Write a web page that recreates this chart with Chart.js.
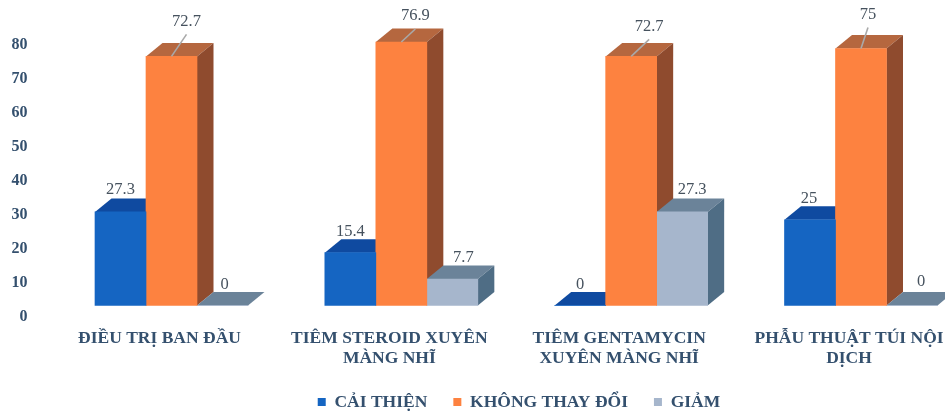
<!DOCTYPE html>
<html lang="vi">
<head>
<meta charset="utf-8">
<style>
  html, body { margin: 0; padding: 0; background: #fff; overflow: hidden; }
  #wrap { width: 945px; height: 414px; }
</style>
<script src="https://cdn.jsdelivr.net/npm/chart.js@4"></script>
</head>
<body>
<div id="wrap"><canvas id="chart" width="945" height="414"></canvas></div>
<script>
const categories = [
    'ĐIỀU TRỊ BAN ĐẦU',
    ['TIÊM STEROID XUYÊN', 'MÀNG NHĨ'],
    ['TIÊM GENTAMYCIN', 'XUYÊN MÀNG NHĨ'],
    ['PHẪU THUẬT TÚI NỘI', 'DỊCH']
];
const caiThien = [27.3, 15.4, 0, 25];
const khongThayDoi = [72.7, 76.9, 72.7, 75];
const giam = [0, 7.7, 27.3, 0];
const yTicks = [0, 10, 20, 30, 40, 50, 60, 70, 80];

// colours per series: front, top, side
const blue = ['#1565c2', '#0f4aa0', '#0d3f88'];
const orange = ['#fd8240', '#b5673f', '#8f4b2e'];
const grey = ['#a6b6cc', '#6b8399', '#4f6d85'];

// where each value label sits relative to the top of its bar
const labelShift = [
    [[0, -22], [0, -21], [0, -21], [-1, -21]],
    [[15, -35], [14, -26], [18, -30], [7, -34]],
    [[2, -21], [11, -21], [10, -22], [9, -24]]
];
const DEPTH_X = 16.5, DEPTH_Y = 13.5;
const serif = '"Liberation Serif", "DejaVu Serif", serif';
const navy = '#34506e';

const box3d = {
    id: 'box3d',
    afterLayout(chart) {
        // legend keeps its reserved height but sits lower and a little right of the canvas centre
        const legend = chart.legend;
        const h = legend.bottom - legend.top;
        legend.top = 367.25;
        legend.bottom = legend.top + h;
        legend.left = 95;
        legend.right = 943;
        // two-line category labels would be clipped at the axis box otherwise
        chart.scales.x.bottom = 380;
    },
    // side and top faces, left to right; the front faces are painted over them by the chart
    beforeDatasetsDraw(chart) {
        const ctx = chart.ctx;
        chart.data.datasets.forEach((ds, i) => {
            const c = ds.faces;
            chart.getDatasetMeta(i).data.forEach(bar => {
                const half = bar.width / 2;
                const l = bar.x - half, r = bar.x + half, t = bar.y, b = bar.base;
                ctx.save();
                ctx.fillStyle = c[1];
                ctx.beginPath();
                ctx.moveTo(l, t);
                ctx.lineTo(l + DEPTH_X, t - DEPTH_Y);
                ctx.lineTo(r + DEPTH_X, t - DEPTH_Y);
                ctx.lineTo(r, t);
                ctx.closePath();
                ctx.fill();
                if (b - t > 0.5) {
                    ctx.fillStyle = c[2];
                    ctx.beginPath();
                    ctx.moveTo(r, t);
                    ctx.lineTo(r + DEPTH_X, t - DEPTH_Y);
                    ctx.lineTo(r + DEPTH_X, b - DEPTH_Y);
                    ctx.lineTo(r, b);
                    ctx.closePath();
                    ctx.fill();
                }
                ctx.restore();
            });
        });
    },
    afterDatasetsDraw(chart) {
        const ctx = chart.ctx;
        ctx.save();
        ctx.font = '16.5px ' + serif;
        ctx.textAlign = 'center';
        ctx.textBaseline = 'middle';
        chart.data.datasets.forEach((ds, i) => {
            chart.getDatasetMeta(i).data.forEach((bar, j) => {
                const s = labelShift[i][j];
                if (i === 1) {
                    // leader line up to the label of the tall bars
                    ctx.strokeStyle = '#a9a9a9';
                    ctx.lineWidth = 1.6;
                    ctx.beginPath();
                    ctx.moveTo(bar.x, bar.y);
                    ctx.lineTo(bar.x + s[0], bar.y + s[1] + 13);
                    ctx.stroke();
                }
                ctx.fillStyle = '#46525e';
                ctx.fillText(String(ds.data[j]), bar.x + s[0], bar.y + s[1]);
            });
        });
        ctx.restore();
    }
};

function series(label, data, faces) {
    return { label, data, faces, backgroundColor: faces[0], barThickness: 51, clip: false, yAxisID: 'y' };
}

new Chart(document.getElementById('chart').getContext('2d'), {
    type: 'bar',
    data: {
        labels: categories,
        datasets: [
            series('CẢI THIỆN', caiThien, blue),
            series('KHÔNG THAY ĐỔI', khongThayDoi, orange),
            series('GIẢM', giam, grey)
        ]
    },
    options: {
        responsive: false,
        animation: false,
        events: [],
        layout: { padding: { left: 0, right: 84, top: 45, bottom: 0 } },
        scales: {
            x: {
                offset: false,
                grid: { display: false },
                border: { display: false },
                ticks: {
                    maxRotation: 0,
                    autoSkip: false,
                    padding: 3,
                    labelOffset: -12,
                    color: navy,
                    font: { family: serif, size: 17.5, weight: 'bold', lineHeight: 1.15 }
                },
                afterFit(scale) {
                    scale.height = 43.5;
                    scale.paddingLeft = 0;
                    scale.paddingRight = 0;
                }
            },
            // bars sit above the printed zero, as in the source
            y: { display: false, min: -3.38, max: 76.03 },
            yLabels: {
                position: 'left',
                min: 0,
                max: 80,
                grid: { display: false, drawTicks: false },
                border: { display: false },
                afterBuildTicks(scale) { scale.ticks = yTicks.map(value => ({ value })); },
                afterFit(scale) {
                    scale.width = 171.5;
                    scale.paddingTop = 0;
                    scale.paddingBottom = 0;
                },
                ticks: {
                    padding: 144,
                    color: navy,
                    font: { family: serif, size: 16, weight: 'bold' }
                }
            }
        },
        plugins: {
            tooltip: { enabled: false },
            legend: {
                position: 'bottom',
                labels: {
                    boxWidth: 8,
                    boxHeight: 8,
                    padding: 26,
                    color: navy,
                    font: { family: serif, size: 17.5, weight: 'bold' }
                }
            }
        }
    },
    plugins: [box3d]
});
</script>
</body>
</html>
